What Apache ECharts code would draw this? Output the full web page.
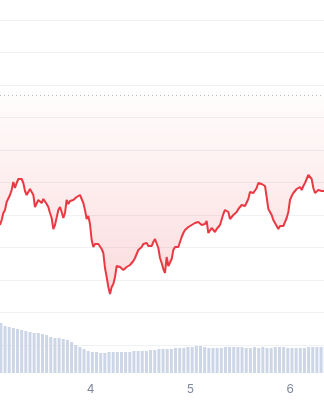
<!DOCTYPE html>
<html>
<head>
<meta charset="utf-8">
<style>
  html, body { margin: 0; padding: 0; background: #ffffff; }
  #chart { width: 324px; height: 400px; }
</style>
<script src="https://cdn.jsdelivr.net/npm/echarts@6/dist/echarts.min.js"></script>
</head>
<body>
<div id="chart"></div>
<script>
// ---- data ----
// time axis in days of the month
const xMin = 3.0912;
const xMax = 6.3377;
const dayTicks = [4, 5, 6];

// price series: one sample every ~24 minutes
const priceStart = 3.0912;
const priceStep = 0.0167;
const prices = [
  120,125,132,135,143,144,150,155,163,157,162,166,167,166,162,154,150,153,156,157,
  150,138,139,145,145,142,146,146,141,138,132,127,116,120,122,135,138,133,127,132,
  145,141,144,144,145,146,148,149,150,146,142,135,126,129,121,105,98,101,103,101,
  99,96,92,77,68,58,51,58,61,68,79,81,78,78,75,75,78,79,80,82,
  84,87,91,95,97,98,101,103,102,99,97,99,103,106,104,97,87,82,76,72,
  88,79,77,86,95,98,100,98,98,108,112,115,117,118,120,120,122,122,122,123,
  122,120,119,121,124,112,113,117,116,113,116,118,120,122,131,135,133,133,126,127,
  130,132,133,136,138,140,140,139,139,146,153,154,152,150,157,162,161,161,161,159,
  148,136,133,130,125,122,120,116,119,119,119,123,127,133,145,149,152,152,156,155,
  158,155,159,162,166,170,172,166,157,152,153,155,153,154,154,154
];
// opening price (dotted reference line)
const baseline = 249.3;

// hourly volume bars
const volStart = 3.1;
const volStep = 1 / 24;
const volumes = [
  50,47,46,45,44,43,42,41,40,40,39,38,36,35,35,34,33,31,28,26,
  24,22,21,21,20,20,21,21,21,21,21,21,22,22,22,22,23,23,24,24,
  24,24,25,25,25,26,26,27,27,26,25,25,25,25,26,26,26,26,26,25,
  25,26,25,26,25,25,26,26,26,25,25,25,25,25,26,26,26,26,26
];

// ---- chart ----
const priceData = prices.map((p, i) => [priceStart + i * priceStep, p]);
const volData = volumes.map((v, i) => [volStart + i * volStep, v]);

const chart = echarts.init(document.getElementById('chart'), null, { renderer: 'canvas' });
chart.setOption({
  animation: false,
  backgroundColor: '#ffffff',
  grid: [
    { left: 0, right: 0, top: 20, height: 325 },
    { left: 0, right: 0, top: 300, height: 73 }
  ],
  xAxis: [
    {
      type: 'value', gridIndex: 0, min: xMin, max: xMax,
      axisLine: { show: false }, axisTick: { show: false },
      axisLabel: { show: false }, splitLine: { show: false }
    },
    {
      type: 'value', gridIndex: 1, min: xMin, max: xMax,
      axisLine: { show: false }, axisTick: { show: false },
      splitLine: { show: false },
      axisLabel: {
        customValues: dayTicks,
        formatter: v => String(Math.round(v)),
        color: '#808a9d',
        fontSize: 12,
        fontFamily: 'Inter',
        margin: 10
      }
    }
  ],
  yAxis: [
    {
      type: 'value', gridIndex: 0, min: 0, max: 325, interval: 32.5,
      axisLine: { show: false }, axisTick: { show: false },
      axisLabel: { show: false },
      splitLine: { show: true, lineStyle: { color: '#eff2f5', width: 1 } }
    },
    {
      type: 'value', gridIndex: 1, min: 0, max: 73,
      axisLine: { show: false }, axisTick: { show: false },
      axisLabel: { show: false }, splitLine: { show: false }
    }
  ],
  series: [
    {
      type: 'bar',
      xAxisIndex: 1, yAxisIndex: 1,
      data: volData,
      barWidth: 3,
      itemStyle: { color: '#cdd6e7' },
      silent: true
    },
    {
      type: 'line',
      xAxisIndex: 0, yAxisIndex: 0,
      data: priceData,
      showSymbol: false,
      symbol: 'none',
      lineStyle: { color: '#ea3943', width: 2 },
      areaStyle: {
        origin: baseline,
        color: new echarts.graphic.LinearGradient(0, 0, 0, 1, [
          { offset: 0, color: 'rgba(234,57,67,0.02)' },
          { offset: 1, color: 'rgba(234,57,67,0.26)' }
        ])
      },
      markLine: {
        silent: true,
        symbol: 'none',
        label: { show: false },
        lineStyle: { color: '#b4bccb', width: 1, type: [1, 3] },
        data: [{ yAxis: baseline }]
      }
    }
  ]
});
</script>
</body>
</html>
